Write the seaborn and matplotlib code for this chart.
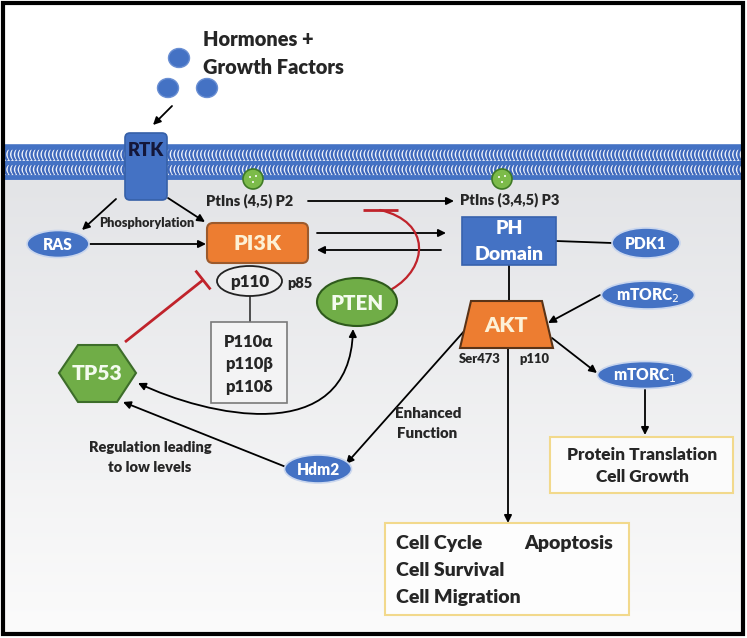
import numpy as np
import matplotlib
matplotlib.use("Agg")
import matplotlib.pyplot as plt
import seaborn as sns
from matplotlib.patches import Ellipse, FancyBboxPatch, Rectangle, Polygon, Circle, FancyArrowPatch
from matplotlib.path import Path
from matplotlib.collections import LineCollection

sns.set_theme(style="white")
plt.rcParams["font.family"] = ["Lato", "DejaVu Sans"]
W = "heavy"

# colours
BLUE = "#4472c4"
ORANGE = "#ed7d31"
GREEN = "#70ad47"
RED = "#c0232b"
YELLOW_EDGE = "#f2d98c"

# node labels
blue_nodes = ["RAS", "PDK1", "mTORC$_2$", "mTORC$_1$", "Hdm2"]
green_nodes = ["PTEN", "TP53"]
p110_isoforms = ["P110α", "p110β", "p110δ"]
outcome_left = ["Cell Cycle", "Cell Survival", "Cell Migration"]
outcome_right = ["Apoptosis"]
growth_lines = ["Protein Translation", "Cell Growth"]

# layout in pixel space (x, y from top-left)
ellipse_pos = {
    "RAS": (58, 244, 62, 27),
    "PDK1": (646, 243, 68, 30),
    "mTORC$_2$": (648, 295, 93, 28),
    "mTORC$_1$": (645, 375, 95, 27),
    "Hdm2": (318, 469, 67, 28),
}

fig = plt.figure(figsize=(7.47, 6.38), dpi=100)
ax = fig.add_axes([0, 0, 1, 1])
ax.set_xlim(0, 747)
ax.set_ylim(638, 0)
ax.axis("off")


def px(s):
    return s * 0.72


# cytoplasm gradient
grad = np.linspace(0, 1, 200)[:, None]
ax.imshow(grad, extent=[4, 743, 633, 176], cmap=matplotlib.colors.LinearSegmentedColormap.from_list(
    "bg", ["#e3e4e7", "#fbfbfb"]), aspect="auto", zorder=0, origin="upper")

# membrane
ax.add_patch(Rectangle((4, 144), 739, 34, facecolor="#eef2fa", edgecolor="none", zorder=1))
segs = []
for row_top, hgt in ((148.5, 12), (164, 11)):
    for x0 in np.arange(5, 742, 3.8):
        t = np.linspace(0, 1, 7)
        xs = x0 + 2.4 * (2 * t - 1) ** 2
        ys = row_top + hgt * t
        segs.append(np.column_stack([xs, ys]))
ax.add_collection(LineCollection(segs, colors="#3d67bb", linewidths=1.7, zorder=2))
for yy, lw in ((146.5, 4.0), (162.5, 3.0), (176.5, 3.5)):
    ax.plot([4, 743], [yy, yy], color=BLUE, lw=lw, zorder=2, solid_capstyle="butt")

# PtIns dots on the membrane
for cx in (253, 502):
    ax.add_patch(Circle((cx, 179), 10, facecolor="#7cbb4a", edgecolor="#3f7a26", lw=1.2, zorder=3))
    for dx, dy in ((-3, -2), (3, -3), (0, 3)):
        ax.add_patch(Circle((cx + dx, 179 + dy), 1.0, facecolor="white", edgecolor="none", zorder=4))

# hormones
for cx, cy in ((179, 58), (168, 88), (207, 88)):
    ax.add_patch(Ellipse((cx, cy), 21, 19, facecolor=BLUE, edgecolor="#6a8fd3", lw=1, zorder=3))
ax.text(203, 40, "Hormones +", fontsize=px(20), fontweight=W, va="center", ha="left", zorder=5)
ax.text(203, 67, "Growth Factors", fontsize=px(20), fontweight=W, va="center", ha="left", zorder=5)


def arrow(p0, p1, lw=1.3, ms=11, style="-|>", color="black", z=4):
    ax.add_patch(FancyArrowPatch(p0, p1, arrowstyle=style, color=color, lw=lw,
                                 mutation_scale=ms, shrinkA=0, shrinkB=0, zorder=z))


def line(p0, p1, color="black", lw=1.3, z=4):
    ax.plot([p0[0], p1[0]], [p0[1], p1[1]], color=color, lw=lw, zorder=z, solid_capstyle="butt")


arrow((172, 106), (153, 125))

# RTK
ax.add_patch(FancyBboxPatch((125, 133), 42, 67, boxstyle="round,pad=0,rounding_size=5",
                            facecolor=BLUE, edgecolor="#3660a8", lw=1.2, zorder=5))
ax.text(146, 151, "RTK", fontsize=px(18.5), fontweight=W, color="#14173a", ha="center", va="center", zorder=6)

arrow((116, 199), (82, 230))
arrow((168, 198), (205, 222))
ax.text(147, 223, "Phosphorylation", fontsize=px(12.7), fontweight=W, ha="center", va="center", zorder=5)

# blue ellipses
for name in blue_nodes:
    cx, cy, w, h = ellipse_pos[name]
    ax.add_patch(Ellipse((cx, cy), w, h, facecolor=BLUE, edgecolor="#c9d6ee", lw=1.2, zorder=5))
    ax.text(cx, cy + 1, name, fontsize=px(15.5), fontweight=W, color="white", ha="center", va="center", zorder=6)

arrow((90, 244), (206, 244))

# PI3K
ax.add_patch(FancyBboxPatch((207, 223), 101, 40, boxstyle="round,pad=0,rounding_size=6",
                            facecolor=ORANGE, edgecolor="#9c5a2c", lw=1.5, zorder=5))
ax.text(257.5, 244, "PI3K", fontsize=px(21.5), fontweight=W, color="#fdf1d6", ha="center", va="center", zorder=6)

# p110 / p85
ax.add_patch(Ellipse((249.5, 281), 65, 30, facecolor="#eeeeef", edgecolor="#222222", lw=1.3, zorder=5))
ax.text(249.5, 282, "p110", fontsize=px(17), fontweight=W, ha="center", va="center", zorder=6)
ax.text(300, 283, "p85", fontsize=px(14.5), fontweight=W, ha="center", va="center", zorder=6)
line((249.5, 296), (249.5, 322), color="#333333", lw=1.2)
ax.add_patch(Rectangle((211, 322), 76, 81, facecolor="#f3f3f4", edgecolor="#7a7a7a", lw=1.2, zorder=5))
for i, lab in enumerate(p110_isoforms):
    ax.text(249, 342 + i * 22.5, lab, fontsize=px(16.5), fontweight=W, ha="center", va="center", zorder=6)

# PtIns labels
ax.text(250, 201, "PtIns (4,5) P2", fontsize=px(14.5), fontweight=W, ha="center", va="center", zorder=6)
ax.text(510, 200, "PtIns (3,4,5) P3", fontsize=px(14.5), fontweight=W, ha="center", va="center", zorder=6)
arrow((308, 201), (454, 201))
arrow((317, 233), (446, 233))
arrow((441, 250), (317, 250))

# PH domain
ax.add_patch(Rectangle((462, 217), 94, 48, facecolor=BLUE, edgecolor="#3762ad", lw=1.2, zorder=5))
ax.text(509, 229, "PH", fontsize=px(19.5), fontweight=W, color="white", ha="center", va="center", zorder=6)
ax.text(509, 254, "Domain", fontsize=px(19.5), fontweight=W, color="white", ha="center", va="center", zorder=6)
line((556, 241), (612, 243))
line((509, 265), (509, 301))

# AKT
ax.add_patch(Polygon([(471, 301), (542, 301), (553, 348), (460, 348)], closed=True,
                     facecolor=ORANGE, edgecolor="#5a3317", lw=1.5, zorder=5))
ax.text(506, 326, "AKT", fontsize=px(21.5), fontweight=W, color="#fdf1d6", ha="center", va="center", zorder=6)
ax.text(480, 359, "Ser473", fontsize=px(13), fontweight=W, ha="center", va="center", zorder=6)
ax.text(534, 359, "p110", fontsize=px(13), fontweight=W, ha="center", va="center", zorder=6)
arrow((600, 295), (548, 323))
arrow((552, 338), (597, 373))
arrow((645, 388), (645, 435))
arrow((508, 348), (508, 523))

# Protein translation box
ax.add_patch(Rectangle((550, 437), 183, 56, facecolor="#fbfbfb", edgecolor=YELLOW_EDGE, lw=1.5, zorder=5))
for i, lab in enumerate(growth_lines):
    ax.text(642, 455 + i * 22, lab, fontsize=px(17.3), fontweight=W, ha="center", va="center", zorder=6)

# outcome box
ax.add_patch(Rectangle((385, 523), 244, 92, facecolor="#fdfdfd", edgecolor=YELLOW_EDGE, lw=1.5, zorder=5))
for i, lab in enumerate(outcome_left):
    ax.text(396, 543 + i * 27, lab, fontsize=px(19.5), fontweight=W, ha="left", va="center", zorder=6)
ax.text(524, 543, outcome_right[0], fontsize=px(19.5), fontweight=W, ha="left", va="center", zorder=6)

# AKT -> Hdm2
arrow((466, 329), (346, 464))
ax.text(395, 413, "Enhanced", fontsize=px(15), fontweight=W, ha="left", va="center", zorder=6)
ax.text(397, 434, "Function", fontsize=px(15), fontweight=W, ha="left", va="center", zorder=6)

# Hdm2 -> TP53
arrow((286, 467), (123, 402))
ax.text(150, 448, "Regulation leading", fontsize=px(14.6), fontweight=W, ha="center", va="center", zorder=6)
ax.text(150, 468, "to low levels", fontsize=px(14.6), fontweight=W, ha="center", va="center", zorder=6)

# PTEN
ax.add_patch(Ellipse((357, 302), 80, 48, facecolor=GREEN, edgecolor="#2e5a1c", lw=1.5, zorder=5))
ax.text(357, 303, green_nodes[0], fontsize=px(20.5), fontweight=W, color="#f4fbef", ha="center", va="center", zorder=6)

# TP53
hexv = [(59, 373), (78, 345), (117, 345), (136, 373), (117, 402), (78, 402)]
ax.add_patch(Polygon(hexv, closed=True, facecolor=GREEN, edgecolor="#3d6d2a", lw=1.5, zorder=5))
ax.text(97.5, 374, green_nodes[1], fontsize=px(21), fontweight=W, color="#f4fbef", ha="center", va="center", zorder=6)

# PTEN <-> TP53 curve
curve = Path([(138, 383), (205, 415), (350, 450), (353, 329)],
             [Path.MOVETO, Path.CURVE4, Path.CURVE4, Path.CURVE4])
ax.add_patch(FancyArrowPatch(path=curve, arrowstyle="<|-|>", color="black", lw=1.3,
                             mutation_scale=11, zorder=4))

# inhibitions (red)
red_curve = Path([(392, 289), (428, 268), (432, 222), (380, 210)],
                 [Path.MOVETO, Path.CURVE4, Path.CURVE4, Path.CURVE4])
ax.add_patch(FancyArrowPatch(path=red_curve, arrowstyle="-", color=RED, lw=1.6, zorder=4))
line((363, 210), (398, 210), color=RED, lw=2.0)

p0 = np.array([125, 342.0])
p1 = np.array([203, 280.0])
line(p0, p1, color=RED, lw=2.0)
d = (p1 - p0) / np.linalg.norm(p1 - p0)
perp = np.array([d[1], -d[0]])
line(p1 + perp * 12, p1 - perp * 12, color=RED, lw=2.0)

# frame
ax.add_patch(Rectangle((3, 3), 740, 631, facecolor="none", edgecolor="black", lw=3, zorder=10))

fig.savefig("out.png", dpi=100)
